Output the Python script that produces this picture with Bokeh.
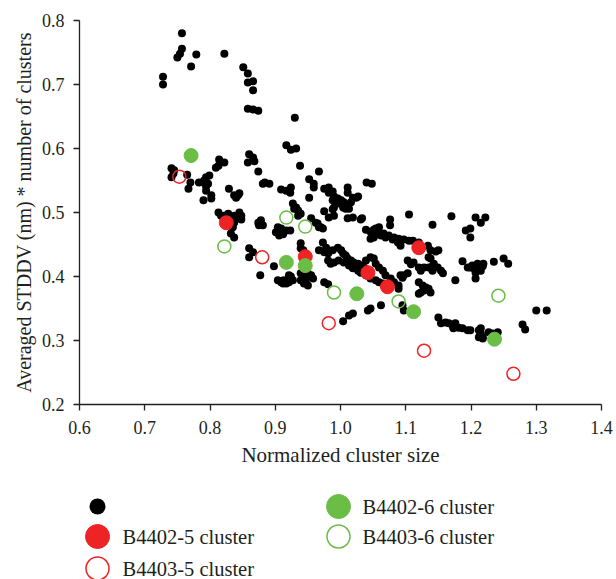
from bokeh.plotting import figure
from bokeh.models import FixedTicker, NumeralTickFormatter, Range1d
from bokeh.layouts import column
from bokeh.core.properties import value
from bokeh.embed import file_html
from bokeh.resources import INLINE

# ---------------- data ----------------
x_ticks = [0.6, 0.7, 0.8, 0.9, 1.0, 1.1, 1.2, 1.3, 1.4]
y_ticks = [0.2, 0.3, 0.4, 0.5, 0.6, 0.7, 0.8]
x_title = "Normalized cluster size"
y_title = "Averaged STDDV (nm) * number of clusters"

# all clusters (black dots): (normalized size, averaged STDDV * n)
all_points = [
    # upper-left arc
    (0.757, 0.780), (0.757, 0.756), (0.754, 0.748), (0.750, 0.742), (0.779, 0.747),
    (0.771, 0.728), (0.822, 0.748), (0.728, 0.712), (0.728, 0.700), (0.851, 0.727),
    (0.858, 0.717), (0.858, 0.703), (0.866, 0.705), (0.866, 0.691), (0.858, 0.662),
    (0.866, 0.661), (0.874, 0.659), (0.930, 0.648),
    (0.860, 0.591), (0.866, 0.586), (0.858, 0.578), (0.868, 0.580), (0.874, 0.564),
    (0.917, 0.605), (0.924, 0.598), (0.932, 0.600), (0.938, 0.573), (0.814, 0.583),
    (0.822, 0.578), (0.809, 0.570), (0.813, 0.573), (0.967, 0.564),
    # left cluster
    (0.741, 0.569), (0.745, 0.566), (0.741, 0.555), (0.744, 0.561), (0.765, 0.559),
    (0.770, 0.547), (0.767, 0.537), (0.794, 0.555), (0.799, 0.558), (0.791, 0.550),
    (0.797, 0.545), (0.794, 0.534), (0.802, 0.527), (0.783, 0.547), (0.790, 0.547),
    (0.794, 0.541), (0.829, 0.537), (0.837, 0.527), (0.843, 0.527), (0.840, 0.523),
    (0.845, 0.530),
    (0.884, 0.547), (0.891, 0.545), (0.881, 0.545), (0.909, 0.536), (0.917, 0.534),
    (0.924, 0.539), (0.923, 0.531), (0.952, 0.552), (0.959, 0.545), (0.959, 0.539),
    (0.952, 0.523), (0.975, 0.537), (0.982, 0.539), (0.982, 0.531), (0.988, 0.533),
    (0.990, 0.525), (0.996, 0.522), (1.001, 0.519), (1.011, 0.539), (1.011, 0.531),
    (1.019, 0.523), (1.027, 0.525), (1.040, 0.547), (1.048, 0.545),
    (0.975, 0.502), (0.988, 0.505), (0.990, 0.508), (0.996, 0.514), (1.005, 0.516),
    (1.011, 0.511), (1.016, 0.516), (1.024, 0.523), (0.988, 0.519), (0.993, 0.522),
    (1.004, 0.508), (1.008, 0.506), (1.013, 0.506), (1.011, 0.491), (1.019, 0.492),
    (1.031, 0.489), (1.033, 0.491), (0.955, 0.491), (0.962, 0.484), (0.970, 0.477),
    (0.965, 0.483), (0.967, 0.477), (0.973, 0.475), (0.982, 0.492), (0.990, 0.495),
    (0.813, 0.500), (0.817, 0.495), (0.822, 0.495), (0.828, 0.498), (0.837, 0.495),
    (0.845, 0.500), (0.848, 0.495), (0.843, 0.491), (0.837, 0.484), (0.835, 0.477),
    (0.848, 0.489), (0.832, 0.467), (0.837, 0.461), (0.790, 0.519), (0.802, 0.522),
    (0.874, 0.484), (0.875, 0.480), (0.878, 0.488), (0.881, 0.480), (0.904, 0.477),
    (0.909, 0.475), (0.906, 0.469), (0.912, 0.469), (0.901, 0.469), (0.906, 0.464),
    (0.912, 0.466), (0.917, 0.472), (0.923, 0.472), (0.927, 0.514), (0.929, 0.506),
    (0.932, 0.508), (0.935, 0.503), (0.939, 0.498), (0.935, 0.495),
    (0.860, 0.444), (0.860, 0.430), (0.866, 0.438), (0.877, 0.402), (0.898, 0.416),
    (0.904, 0.394), (0.909, 0.391), (0.913, 0.394), (0.921, 0.391), (0.924, 0.400),
    (0.912, 0.389), (0.917, 0.389), (0.921, 0.402), (0.927, 0.394), (0.939, 0.394),
    (0.944, 0.389), (0.950, 0.386), (0.955, 0.402), (0.958, 0.397), (0.939, 0.405),
    (0.944, 0.398), (0.950, 0.405), (0.955, 0.400), (0.947, 0.391), (0.975, 0.391),
    (0.981, 0.388), (0.939, 0.452), (0.939, 0.444), (0.943, 0.441),
    # dense band
    (0.973, 0.453), (0.978, 0.445), (0.967, 0.441), (0.975, 0.438), (0.981, 0.436),
    (0.988, 0.441), (0.996, 0.445), (1.001, 0.441), (1.004, 0.436), (1.008, 0.433),
    (1.011, 0.428), (1.016, 0.425), (1.020, 0.422), (1.027, 0.420), (1.031, 0.417),
    (1.036, 0.414), (1.039, 0.425), (1.046, 0.430), (1.051, 0.428), (1.054, 0.420),
    (1.059, 0.414), (1.065, 0.409), (1.069, 0.402), (1.077, 0.397), (1.082, 0.391),
    (1.089, 0.386), (1.095, 0.398), (1.097, 0.402), (0.981, 0.425), (0.985, 0.420),
    (0.990, 0.422), (0.997, 0.425), (1.005, 0.422), (1.013, 0.417), (1.019, 0.413),
    (1.027, 0.409), (1.031, 0.406), (1.039, 0.402), (1.046, 0.397), (1.054, 0.394),
    (1.059, 0.391), (1.065, 0.389),
    (1.062, 0.464), (1.069, 0.461), (1.080, 0.458), (1.088, 0.458), (1.097, 0.458),
    (1.105, 0.456), (1.111, 0.456), (1.120, 0.453), (1.134, 0.448), (1.138, 0.441),
    (1.146, 0.439), (1.150, 0.441), (1.054, 0.467), (1.059, 0.466), (1.046, 0.470),
    (1.051, 0.473), (1.039, 0.473), (1.076, 0.480), (1.076, 0.489), (1.054, 0.475),
    (1.059, 0.477), (1.066, 0.467), (1.074, 0.464), (1.082, 0.461), (1.088, 0.453),
    (1.092, 0.448), (1.089, 0.459), (1.046, 0.459), (1.051, 0.461),
    (1.103, 0.425), (1.108, 0.419), (1.112, 0.422), (1.135, 0.430), (1.138, 0.428),
    (1.143, 0.420), (1.141, 0.416), (1.135, 0.414), (1.128, 0.414), (1.123, 0.409),
    (1.120, 0.414), (1.141, 0.409), (1.149, 0.414), (1.154, 0.409), (1.157, 0.405),
    (1.092, 0.402), (1.103, 0.405), (1.120, 0.391), (1.126, 0.386), (1.131, 0.383),
    (1.135, 0.381), (1.138, 0.375), (1.123, 0.375), (1.120, 0.373), (1.128, 0.378),
    (1.089, 0.381), (1.080, 0.389), (1.097, 0.347), (1.095, 0.355),
    (1.062, 0.355), (1.042, 0.347), (1.046, 0.350), (1.013, 0.339), (1.019, 0.342),
    (1.004, 0.330),
    # right side
    (1.105, 0.497), (1.141, 0.481), (1.170, 0.494), (1.207, 0.492), (1.215, 0.484),
    (1.222, 0.492), (1.192, 0.472), (1.199, 0.475), (1.199, 0.461), (1.187, 0.424),
    (1.195, 0.414), (1.202, 0.417), (1.204, 0.413), (1.210, 0.420), (1.212, 0.413),
    (1.218, 0.416), (1.219, 0.420), (1.207, 0.406), (1.215, 0.409), (1.199, 0.414),
    (1.235, 0.423), (1.250, 0.428), (1.257, 0.420), (1.176, 0.394), (1.207, 0.397),
    (1.150, 0.336), (1.154, 0.327), (1.161, 0.328), (1.166, 0.327), (1.172, 0.323),
    (1.176, 0.327), (1.181, 0.320), (1.187, 0.319), (1.195, 0.316), (1.199, 0.316),
    (1.173, 0.319), (1.212, 0.316), (1.215, 0.311), (1.218, 0.305), (1.212, 0.305),
    (1.218, 0.303), (1.215, 0.319), (1.227, 0.313), (1.233, 0.311), (1.241, 0.313),
    (1.279, 0.325), (1.283, 0.317), (1.300, 0.347), (1.316, 0.347),
]
all_x = [pt[0] for pt in all_points]
all_y = [pt[1] for pt in all_points]

b4402_5_x = [0.825, 0.946, 1.042, 1.072, 1.120]
b4402_5_y = [0.484, 0.431, 0.406, 0.384, 0.445]

b4403_5_x = [0.753, 0.880, 0.982, 1.128, 1.265]
b4403_5_y = [0.556, 0.430, 0.327, 0.284, 0.248]

b4402_6_x = [0.771, 0.917, 0.946, 1.025, 1.112, 1.236]
b4402_6_y = [0.589, 0.422, 0.417, 0.373, 0.345, 0.302]

b4403_6_x = [0.822, 0.917, 0.946, 0.990, 1.089, 1.242]
b4403_6_y = [0.447, 0.492, 0.478, 0.375, 0.361, 0.370]

labels = ["", "B4402-5 cluster", "B4403-5 cluster", "B4402-6 cluster", "B4403-6 cluster"]

# ---------------- style ----------------
FONT = "Liberation Serif"
TEXT = "#231f20"
RED = "#ee2326"
GREEN = "#6abd45"

p = figure(width=616, height=478, output_backend="svg", toolbar_location=None,
           x_range=Range1d(0.6, 1.4), y_range=Range1d(0.2, 0.8),
           min_border_left=79, min_border_right=15, min_border_top=20,
           min_border_bottom=74)
p.grid.visible = False
p.outline_line_color = None
p.background_fill_color = "white"
p.border_fill_color = "white"

p.xaxis.ticker = FixedTicker(ticks=x_ticks)
p.yaxis.ticker = FixedTicker(ticks=y_ticks)
p.xaxis.axis_label = x_title
p.yaxis.axis_label = y_title
for ax in (p.xaxis[0], p.yaxis[0]):
    ax.formatter = NumeralTickFormatter(format="0.0")
    ax.axis_line_color = TEXT
    ax.axis_line_width = 1.3
    ax.major_tick_line_color = TEXT
    ax.major_tick_line_width = 1.3
    ax.major_tick_out = 6
    ax.major_tick_in = 0
    ax.minor_tick_line_color = None
    ax.major_label_text_font = FONT
    ax.major_label_text_font_size = "18px"
    ax.major_label_text_color = TEXT
    ax.axis_label_text_font = FONT
    ax.axis_label_text_font_style = "normal"
    ax.axis_label_text_color = TEXT
p.xaxis.axis_label_text_font_size = "21px"
p.yaxis.axis_label_text_font_size = "20px"
p.xaxis.major_label_standoff = 10
p.xaxis.axis_label_standoff = 6
p.yaxis.major_label_standoff = 9
p.yaxis.axis_label_standoff = 4

p.scatter(all_x, all_y, size=8, fill_color="black", line_color=None)
p.scatter(b4402_5_x, b4402_5_y, size=14, fill_color=RED, line_color=RED)
p.scatter(b4403_5_x, b4403_5_y, size=13, fill_color=None, line_color=RED, line_width=1.5)
p.scatter(b4402_6_x, b4402_6_y, size=14, fill_color=GREEN, line_color=GREEN)
p.scatter(b4403_6_x, b4403_6_y, size=13, fill_color=None, line_color=GREEN, line_width=1.5)

# ---------------- legend panel (below the chart) ----------------
# its frame is aligned with the chart frame (page x 79..601); ranges map page pixels
lf = figure(width=616, height=101, output_backend="svg", toolbar_location=None,
            x_range=Range1d(79, 601), y_range=Range1d(101, 0),
            x_axis_location=None, y_axis_location=None,
            min_border_left=79, min_border_right=15,
            min_border_top=0, min_border_bottom=0)
lf.grid.visible = False
lf.outline_line_color = None
lf.background_fill_color = "white"
lf.border_fill_color = "white"

# legend layout: key positions (column x, row y) in the legend panel
key_x = [97, 97, 97, 338, 338]
key_y = [28, 58, 90, 28, 58]
text_x = [122, 122, 122, 362, 362]

lf.scatter([key_x[0]], [key_y[0]], size=16, fill_color="black", line_color=None)
lf.scatter([key_x[1]], [key_y[1]], size=24, fill_color=RED, line_color=RED)
lf.scatter([key_x[2]], [key_y[2]], size=23, fill_color=None, line_color=RED, line_width=1.5)
lf.scatter([key_x[3]], [key_y[3]], size=24, fill_color=GREEN, line_color=GREEN)
lf.scatter([key_x[4]], [key_y[4]], size=23, fill_color=None, line_color=GREEN, line_width=1.5)
lf.text(x=text_x[1:], y=key_y[1:], text=labels[1:], text_font=value(FONT),
        text_font_size="20.5px", text_color=TEXT, text_baseline="middle", text_align="left")

layout = column(p, lf, spacing=0)
open("out.html", "w").write(file_html(layout, INLINE))
